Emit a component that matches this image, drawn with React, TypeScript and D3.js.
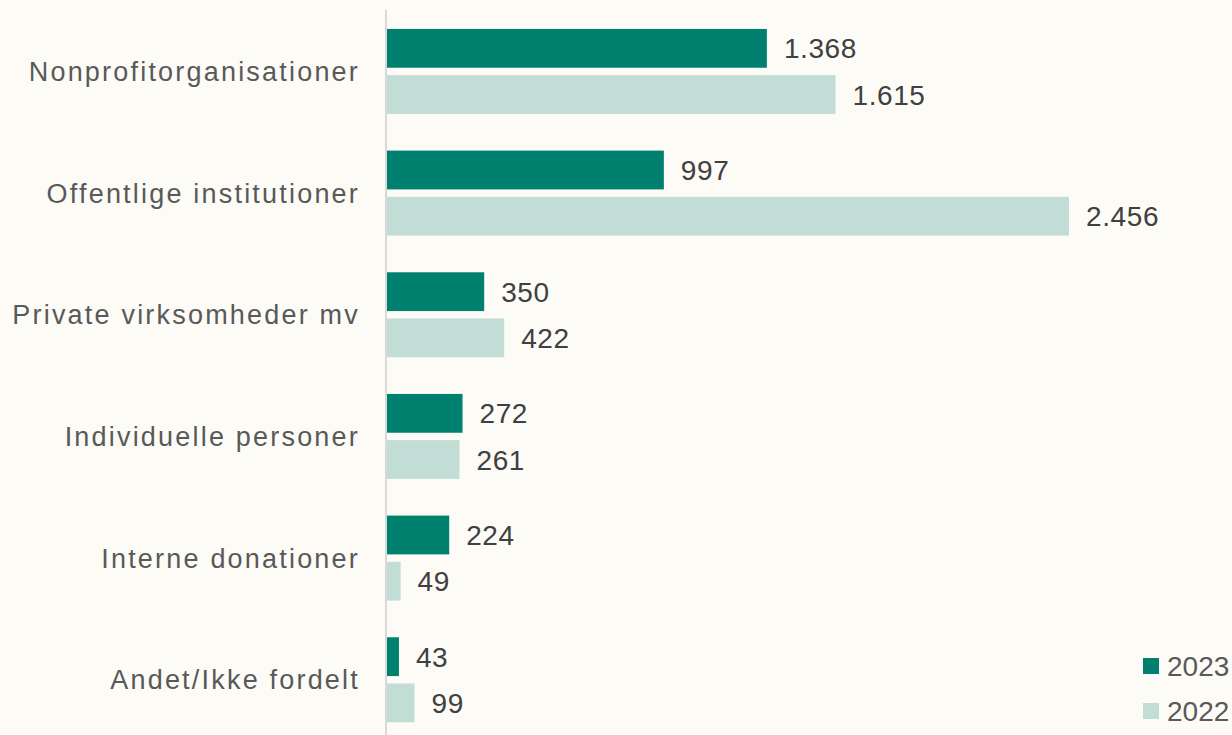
// @ts-nocheck
import React from "react";
import * as d3 from "d3";

const categories = [
  "Nonprofitorganisationer",
  "Offentlige institutioner",
  "Private virksomheder mv",
  "Individuelle personer",
  "Interne donationer",
  "Andet/Ikke fordelt",
];
const series = ["2023", "2022"];
const values2023 = [1368, 997, 350, 272, 224, 43];
const values2022 = [1615, 2456, 422, 261, 49, 99];

const colors = { "2023": "#00806f", "2022": "#c2dcd6" };
const FONT = "'Liberation Sans', Arial, sans-serif";

const App = () => {
  const width = 1232;
  const height = 735;
  const x0 = 387;

  const x = d3.scaleLinear().domain([0, 2456]).range([x0, 1069]);
  const y = d3.scaleBand().domain(categories).range([10.6, 740.6]);
  const inner = d3.scaleBand().domain(series).range([0, 85]).paddingInner(0.16);

  const fmt = (v) => d3.format(",")(v).replace(/,/g, ".");

  const rows = categories.map((c, i) => ({
    cat: c,
    vals: { "2023": values2023[i], "2022": values2022[i] },
  }));

  return (
    <svg
      width={width}
      height={height}
      style={{ position: "absolute", left: 0, top: 0, background: "#fdfbf6" }}
      fontFamily={FONT}
    >
      <rect width={width} height={height} fill="#fdfbf6" />
      {rows.map((r) => {
        const gy = y(r.cat) + (y.bandwidth() - 85) / 2;
        return (
          <g key={r.cat}>
            <text
              x={360}
              y={gy + 42.5}
              dy="0.36em"
              textAnchor="end"
              fontSize={27}
              letterSpacing={2.2}
              fill="#595959"
            >
              {r.cat}
            </text>
            {series.map((s) => {
              const v = r.vals[s];
              const by = gy + inner(s);
              return (
                <g key={s}>
                  <rect
                    x={x(0)}
                    y={by}
                    width={x(v) - x(0)}
                    height={inner.bandwidth()}
                    fill={colors[s]}
                  />
                  <text
                    x={x(v) + 17}
                    y={by + inner.bandwidth() / 2}
                    dy="0.36em"
                    fontSize={28}
                    letterSpacing={0.6}
                    fill="#404040"
                  >
                    {fmt(v)}
                  </text>
                </g>
              );
            })}
          </g>
        );
      })}
      <line x1={386} x2={386} y1={10} y2={height} stroke="#d9d9d9" strokeWidth={2} />
      {series.map((s, i) => (
        <g key={s} transform={`translate(1143, ${658 + i * 45})`}>
          <rect width={16} height={16} fill={colors[s]} />
          <text x={24} y={8} dy="0.36em" fontSize={28} fill="#595959">
            {s}
          </text>
        </g>
      ))}
    </svg>
  );
};

export default App;
